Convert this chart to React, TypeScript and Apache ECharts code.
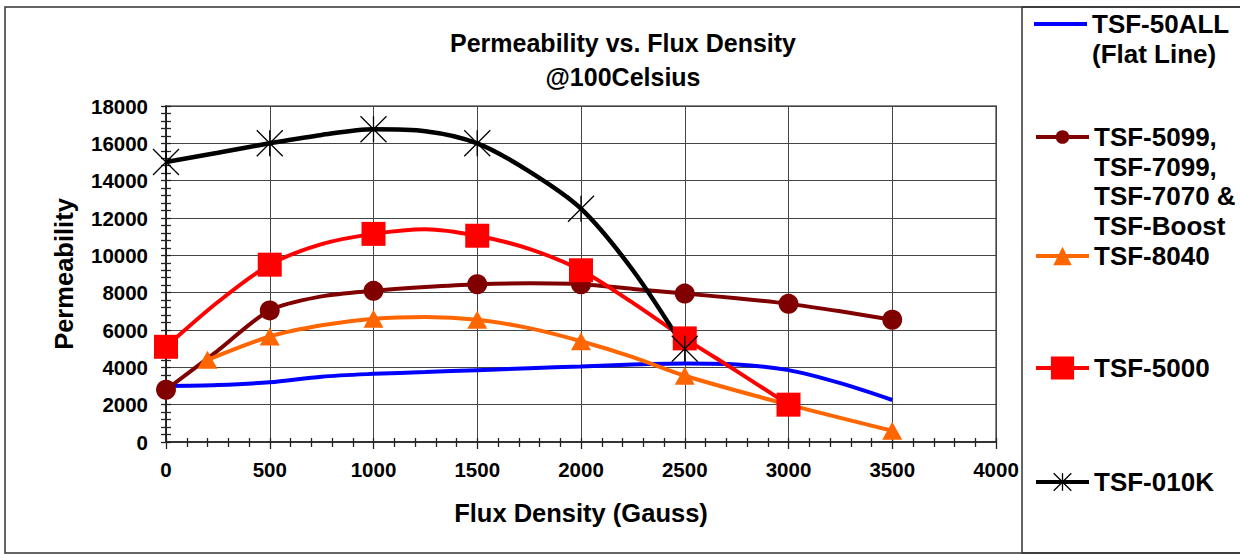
import React, { useEffect, useRef } from "react";
import * as echarts from "echarts";

const FONT = "'Liberation Sans', Arial, Helvetica, sans-serif";

// ---- data (Flux Density in Gauss, Permeability) ----
// marked = 1 where the original chart shows a marker
const blueName = "TSF-50ALL\n(Flat Line)";
const blueX = [0, 250, 500, 750, 1000, 1250, 1500, 1750, 2000, 2250, 2500, 2750, 3000, 3250, 3500];
const blueY = [3000, 3050, 3200, 3500, 3650, 3750, 3850, 3950, 4050, 4150, 4200, 4150, 3850, 3150, 2250];
const blueMarked = [0, 0, 0, 0, 0, 0, 0, 0, 0, 0, 0, 0, 0, 0, 0];

const maroonName = "TSF-5099,\nTSF-7099,\nTSF-7070 &\nTSF-Boost";
const maroonX = [0, 250, 500, 750, 1000, 1250, 1500, 1750, 2000, 2250, 2500, 2750, 3000, 3250, 3500];
const maroonY = [2800, 4900, 7050, 7800, 8100, 8300, 8450, 8500, 8450, 8200, 7950, 7700, 7400, 7000, 6550];
const maroonMarked = [1, 0, 1, 0, 1, 0, 1, 0, 1, 0, 1, 0, 1, 0, 1];

const orangeName = "TSF-8040";
const orangeX = [200, 500, 750, 1000, 1250, 1500, 1750, 2000, 2250, 2500, 3000, 3500];
const orangeY = [4400, 5650, 6250, 6600, 6700, 6550, 6100, 5400, 4550, 3550, 2000, 600];
const orangeMarked = [1, 1, 0, 1, 0, 1, 0, 1, 0, 1, 1, 1];

const redName = "TSF-5000";
const redX = [0, 250, 500, 750, 1000, 1250, 1500, 1750, 2000, 2250, 2500, 2750, 3000];
const redY = [5100, 7500, 9500, 10600, 11150, 11400, 11050, 10350, 9200, 7450, 5550, 3800, 2000];
const redMarked = [1, 0, 1, 0, 1, 0, 1, 0, 1, 0, 1, 0, 1];

const blackName = "TSF-010K";
const blackX = [0, 250, 500, 750, 1000, 1250, 1500, 1750, 2000, 2250, 2500];
const blackY = [15000, 15500, 16000, 16450, 16750, 16650, 16000, 14500, 12500, 9200, 5000];
const blackMarked = [1, 0, 1, 0, 1, 0, 1, 0, 1, 0, 1];

const xMin = 0;
const xMax = 4000;
const xStep = 500;
const yMin = 0;
const yMax = 18000;
const yStep = 2000;

const ASTERISK = "path://M0 0L10 10M10 0L0 10M5 0L5 10";

function buildData(xs: number[], ys: number[], marked: number[]) {
  return xs.map((x, i) => {
    const item: any = { value: [x, ys[i]] };
    if (!marked[i]) item.symbol = "none";
    return item;
  });
}

export default function App() {
  const ref = useRef<HTMLDivElement>(null);

  useEffect(() => {
    if (!ref.current) return;
    const chart = echarts.init(ref.current, null, { renderer: "svg" });

    const labelStyle = {
      fontSize: 20.5,
      fontWeight: "bold" as const,
      color: "#000",
      fontFamily: FONT,
      formatter: (v: number) => String(v),
    };
    const nameStyle = {
      fontSize: 25.5,
      fontWeight: "bold" as const,
      color: "#000",
      fontFamily: FONT,
    };
    const tickLine = { color: "#222", width: 1.3 };

    const legendDefs = [
      { name: blueName, lines: 2, lh: 30, iconY: 24, ih: 4, icon: "rect" },
      { name: maroonName, lines: 4, lh: 29.5, iconY: 137, ih: 17, icon: undefined },
      { name: orangeName, lines: 1, lh: 22, iconY: 254, ih: 23, icon: undefined },
      { name: redName, lines: 1, lh: 22, iconY: 366, ih: 29, icon: undefined },
      { name: blackName, lines: 1, lh: 22, iconY: 480, ih: 22, icon: undefined },
    ];

    const legends = legendDefs.map((d) => {
      const lg: any = {
        data: [d.name],
        left: 1034,
        top: d.iconY - (d.lh * (2 * d.lines - 1)) / 2,
        orient: "vertical",
        padding: 0,
        itemGap: 0,
        itemWidth: 53,
        itemHeight: d.ih,
        selectedMode: false,
        lineStyle: { width: 4 },
        formatter: (n: string) => "\n".repeat(d.lines - 1) + n,
        textStyle: {
          fontSize: 26,
          fontWeight: "bold",
          color: "#000",
          fontFamily: FONT,
          lineHeight: d.lh,
        },
      };
      if (d.icon) lg.icon = d.icon;
      if (d.name === blackName) {
        lg.itemStyle = { borderWidth: 1.3, borderColor: "#000" };
      }
      return lg;
    });

    const option: any = {
      animation: false,
      backgroundColor: "#fff",
      title: {
        text: "Permeability vs. Flux Density\n@100Celsius",
        left: 623,
        top: 26,
        padding: 0,
        textAlign: "center",
        textStyle: {
          fontSize: 25,
          fontWeight: "bold",
          color: "#000",
          fontFamily: FONT,
          lineHeight: 34,
        },
      },
      grid: [
        {
          left: 166,
          right: 244,
          top: 106,
          bottom: 112,
          show: true,
          borderColor: "#888",
          borderWidth: 2,
          backgroundColor: "transparent",
        },
        { left: 166, right: 244, top: 106, bottom: 112, show: false },
      ],
      xAxis: [
        {
          type: "value",
          gridIndex: 0,
          min: xMin,
          max: xMax,
          interval: xStep,
          name: "Flux Density (Gauss)",
          nameLocation: "middle",
          nameGap: 58,
          nameTextStyle: nameStyle,
          axisLine: { show: true, onZero: false, lineStyle: { color: "#333", width: 2 } },
          axisTick: { show: true, length: 7, lineStyle: tickLine },
          minorTick: { show: true, splitNumber: 5, length: 5, lineStyle: tickLine },
          axisLabel: { ...labelStyle, margin: 17 },
          splitLine: { show: true, lineStyle: { color: "#444", width: 1 } },
        },
        {
          type: "value",
          gridIndex: 1,
          min: xMin,
          max: xMax,
          interval: xStep,
          axisLine: { show: false },
          axisTick: { show: true, inside: true, length: 4, lineStyle: tickLine },
          minorTick: { show: true, splitNumber: 5, length: 4, lineStyle: tickLine },
          axisLabel: { show: false },
          splitLine: { show: false },
        },
      ],
      yAxis: [
        {
          type: "value",
          gridIndex: 0,
          min: yMin,
          max: yMax,
          interval: yStep,
          name: "Permeability",
          nameLocation: "middle",
          nameGap: 89,
          nameRotate: 90,
          nameTextStyle: nameStyle,
          axisLine: { show: true, onZero: false, lineStyle: { color: "#111", width: 1.5 } },
          axisTick: { show: true, length: 5, lineStyle: tickLine },
          minorTick: { show: true, splitNumber: 5, length: 5, lineStyle: tickLine },
          axisLabel: { ...labelStyle, margin: 18 },
          splitLine: { show: true, lineStyle: { color: "#444", width: 1 } },
        },
        {
          type: "value",
          gridIndex: 1,
          min: yMin,
          max: yMax,
          interval: yStep,
          axisLine: { show: false },
          axisTick: { show: true, inside: true, length: 5, lineStyle: tickLine },
          minorTick: { show: true, splitNumber: 5, length: 5, lineStyle: tickLine },
          axisLabel: { show: false },
          splitLine: { show: false },
        },
      ],
      legend: legends,
      graphic: [
        {
          type: "rect",
          silent: true,
          shape: { x: 5, y: 7, width: 1240, height: 546 },
          style: { fill: "none", stroke: "#333", lineWidth: 1.5 },
          z: 100,
        },
        {
          type: "rect",
          silent: true,
          shape: { x: 1022, y: 7, width: 230, height: 546 },
          style: { fill: "none", stroke: "#333", lineWidth: 1.5 },
          z: 100,
        },
      ],
      series: [
        {
          name: blueName,
          type: "line",
          xAxisIndex: 0,
          yAxisIndex: 0,
          smooth: 0.3,
          symbol: "none",
          lineStyle: { color: "#0000FF", width: 4 },
          itemStyle: { color: "#0000FF" },
          data: buildData(blueX, blueY, blueMarked),
        },
        {
          name: maroonName,
          type: "line",
          xAxisIndex: 0,
          yAxisIndex: 0,
          smooth: 0.3,
          symbol: "circle",
          symbolSize: 20,
          lineStyle: { color: "#800000", width: 4 },
          itemStyle: { color: "#800000", borderWidth: 0 },
          data: buildData(maroonX, maroonY, maroonMarked),
        },
        {
          name: orangeName,
          type: "line",
          xAxisIndex: 0,
          yAxisIndex: 0,
          smooth: 0.3,
          symbol: "triangle",
          symbolSize: [20, 18],
          lineStyle: { color: "#FF6600", width: 4 },
          itemStyle: { color: "#FF6600", borderWidth: 0 },
          data: buildData(orangeX, orangeY, orangeMarked),
        },
        {
          name: redName,
          type: "line",
          xAxisIndex: 0,
          yAxisIndex: 0,
          smooth: 0.3,
          symbol: "rect",
          symbolSize: 24,
          lineStyle: { color: "#FF0000", width: 4 },
          itemStyle: { color: "#FF0000", borderWidth: 0 },
          data: buildData(redX, redY, redMarked),
        },
        {
          name: blackName,
          type: "line",
          xAxisIndex: 0,
          yAxisIndex: 0,
          smooth: 0.3,
          symbol: ASTERISK,
          symbolSize: 26,
          lineStyle: { color: "#000000", width: 4.5 },
          itemStyle: { color: "#000000", borderColor: "#000000", borderWidth: 1.3 },
          data: buildData(blackX, blackY, blackMarked),
        },
      ],
    };

    chart.setOption(option);
    return () => {
      chart.dispose();
    };
  }, []);

  return (
    <div
      ref={ref}
      style={{ position: "absolute", left: 0, top: 0, width: 1240, height: 554, background: "#fff" }}
    />
  );
}
